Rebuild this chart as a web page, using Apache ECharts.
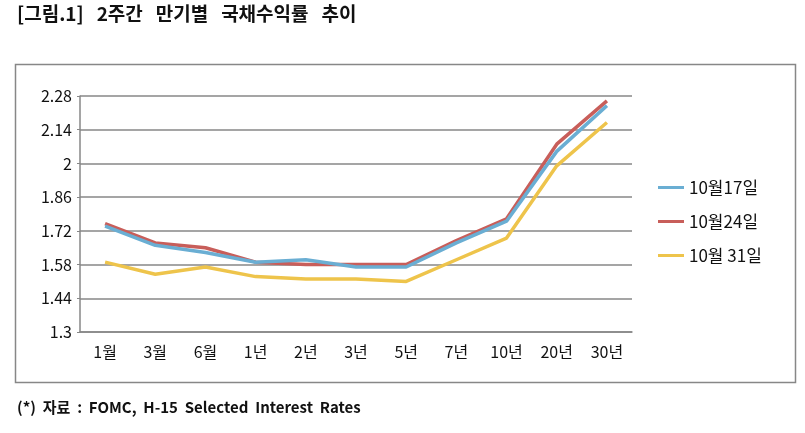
<!DOCTYPE html>
<html><head><meta charset="utf-8">
<script src="https://cdn.jsdelivr.net/npm/echarts@6/dist/echarts.min.js"></script>
<style>html,body{margin:0;padding:0;background:#fff}#c{width:805px;height:433px}</style>
</head><body><div id="c"></div>
<script>
const categories = ['1월','3월','6월','1년','2년','3년','5년','7년','10년','20년','30년'];
const seriesNames = ['10월17일','10월24일','10월 31일'];
const oct17 = [1.74,1.66,1.63,1.59,1.60,1.57,1.57,1.67,1.76,2.05,2.24];
const oct24 = [1.75,1.67,1.65,1.59,1.58,1.58,1.58,1.68,1.77,2.08,2.26];
const oct31 = [1.59,1.54,1.57,1.53,1.52,1.52,1.51,1.60,1.69,1.99,2.17];
const yMin = 1.3, yMax = 2.28, yStep = 0.14;
const titleText = '[그림.1]   2주간   만기별   국채수익률   추이';
const footText = '(*)  자료  :  FOMC,  H-15  Selected  Interest  Rates';

const colors = ['#6AAED3','#C85E5A','#EEC44B'];
const font = '"Noto Sans CJK KR","Noto Sans",sans-serif';
const chart = echarts.init(document.getElementById('c'), null, {renderer:'canvas'});
chart.setOption({
  animation:false,
  backgroundColor:'#fff',
  graphic:[
    {type:'rect', shape:{x:15.5,y:64.5,width:780,height:318}, style:{fill:'none',stroke:'#878787',lineWidth:1.5}, z:0},
    {type:'text', left:17, top:4, style:{text:titleText, font:'bold 19px '+font, fill:'#111'}},
    {type:'text', left:17, top:400, style:{text:footText, font:'bold 15px '+font, fill:'#111'}}
  ],
  grid:{left:80, right:173, top:96, bottom:101, containLabel:false},
  legend:{
    orient:'vertical', left:653, top:174, itemGap:17, itemWidth:26, itemHeight:3,
    icon:'rect', data:seriesNames,
    textStyle:{fontSize:17, color:'#111', fontFamily:font, padding:[0,0,0,0]}
  },
  xAxis:{
    type:'category', data:categories, boundaryGap:true,
    axisLine:{lineStyle:{color:'#878787', width:1.5}},
    axisTick:{show:false},
    axisLabel:{fontSize:16, color:'#111', fontFamily:font, margin:12, interval:0}
  },
  yAxis:{
    type:'value', min:yMin, max:yMax, interval:yStep,
    axisLine:{show:true, lineStyle:{color:'#878787', width:1.5}},
    axisTick:{show:true, length:3, lineStyle:{color:'#878787'}},
    splitLine:{lineStyle:{color:'#878787', width:1.5}},
    axisLabel:{fontSize:16, color:'#111', fontFamily:font, margin:8,
      formatter:v=>String(parseFloat(v.toFixed(2)))}
  },
  series:[
    {name:seriesNames[0], type:'line', data:oct17, color:colors[0], symbol:'none', lineStyle:{width:3.5}, z:4},
    {name:seriesNames[1], type:'line', data:oct24, color:colors[1], symbol:'none', lineStyle:{width:3.5}, z:3},
    {name:seriesNames[2], type:'line', data:oct31, color:colors[2], symbol:'none', lineStyle:{width:3.5}, z:2}
  ]
});
</script></body></html>
